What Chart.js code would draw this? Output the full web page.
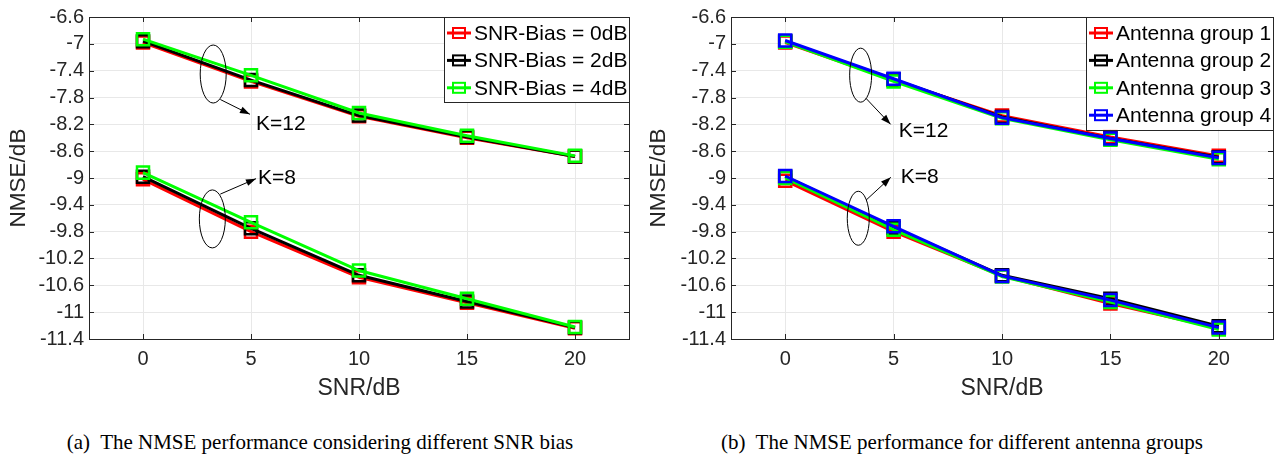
<!DOCTYPE html>
<html>
<head>
<meta charset="utf-8">
<script src="https://cdn.jsdelivr.net/npm/chart.js@4.4.1/dist/chart.umd.min.js"></script>
<style>
  body { margin: 0; background: #fff; width: 1284px; height: 456px; position: relative; overflow: hidden; }
  canvas { position: absolute; top: 0; }
  #ca { left: 0; }
  #cb { left: 640px; }
  .cap { position: absolute; top: 432px; width: 640px; text-align: center; font-family: 'Liberation Serif', 'Times New Roman', serif; font-size: 21px; line-height: 21px; color: #000; white-space: pre; }
</style>
</head>
<body>
<canvas id="ca" width="640" height="410"></canvas>
<canvas id="cb" width="644" height="410"></canvas>
<div class="cap" style="left:0px">(a)  The NMSE performance considering different SNR bias</div>
<div class="cap" style="left:642px">(b)  The NMSE performance for different antenna groups</div>
<script>
// x values and ticks
const snr = [0, 5, 10, 15, 20];
const xTicks = [0, 5, 10, 15, 20];
const yTicks = [-11.4, -11, -10.6, -10.2, -9.8, -9.4, -9, -8.6, -8.2, -7.8, -7.4, -7, -6.6];

// (a) different SNR bias
const biasLabels = ['SNR-Bias = 0dB', 'SNR-Bias = 2dB', 'SNR-Bias = 4dB'];
const biasColors = ['#ff0000', '#000000', '#00ff00'];
const bias0_k12 = [-6.98, -7.56, -8.08, -8.40, -8.68];
const bias2_k12 = [-6.96, -7.54, -8.07, -8.39, -8.68];
const bias4_k12 = [-6.93, -7.47, -8.03, -8.37, -8.67];
const bias0_k8 = [-9.02, -9.80, -10.48, -10.86, -11.24];
const bias2_k8 = [-8.98, -9.75, -10.45, -10.84, -11.23];
const bias4_k8 = [-8.92, -9.66, -10.38, -10.80, -11.22];

// (b) different antenna groups
const groupLabels = ['Antenna group 1', 'Antenna group 2', 'Antenna group 3', 'Antenna group 4'];
const groupColors = ['#ff0000', '#000000', '#00ff00', '#0000ff'];
const g1_k12 = [-6.98, -7.54, -8.07, -8.39, -8.67];
const g2_k12 = [-6.96, -7.53, -8.09, -8.41, -8.69];
const g3_k12 = [-6.97, -7.56, -8.11, -8.43, -8.72];
const g4_k12 = [-6.95, -7.52, -8.10, -8.41, -8.70];
const g1_k8 = [-9.04, -9.80, -10.46, -10.87, -11.24];
const g2_k8 = [-8.98, -9.74, -10.45, -10.80, -11.21];
const g3_k8 = [-9.00, -9.77, -10.47, -10.85, -11.26];
const g4_k8 = [-8.97, -9.72, -10.46, -10.82, -11.23];

Chart.defaults.font.family = "'Liberation Sans', Arial, sans-serif";
Chart.defaults.font.size = 20;
Chart.defaults.color = '#262626';

function pts(ys) {
  return snr.map((x, i) => ({x: x, y: ys[i]}));
}

function series(label, color, ys, order) {
  return {
    label: label,
    data: pts(ys),
    borderColor: color,
    backgroundColor: 'rgba(0,0,0,0)',
    borderWidth: 3,
    pointStyle: 'rect',
    pointRadius: 8.5,
    pointBorderWidth: 2.5,
    pointBorderColor: color,
    pointBackgroundColor: 'rgba(0,0,0,0)',
    tension: 0,
    fill: false,
    order: order
  };
}

// box + inward tick marks like matlab
const boxPlugin = {
  id: 'box',
  afterDatasetsDraw(chart) {
    const {ctx, chartArea: a, scales: {x, y}} = chart;
    ctx.save();
    ctx.strokeStyle = '#262626';
    ctx.lineWidth = 1;
    ctx.beginPath();
    x.ticks.forEach(t => {
      const px = Math.round(x.getPixelForValue(t.value)) + 0.5;
      ctx.moveTo(px, a.bottom); ctx.lineTo(px, a.bottom - 5);
      ctx.moveTo(px, a.top); ctx.lineTo(px, a.top + 5);
    });
    y.ticks.forEach(t => {
      const py = Math.round(y.getPixelForValue(t.value)) + 0.5;
      ctx.moveTo(a.left, py); ctx.lineTo(a.left + 5, py);
      ctx.moveTo(a.right, py); ctx.lineTo(a.right - 5, py);
    });
    ctx.stroke();
    ctx.strokeRect(Math.round(a.left) + 0.5, Math.round(a.top) + 0.5, Math.round(a.right - a.left), Math.round(a.bottom - a.top));
    ctx.restore();
  }
};

// ellipses, arrows and K labels
const notesPlugin = {
  id: 'notes',
  afterDraw(chart, args, opts) {
    const {ctx, scales: {x, y}} = chart;
    ctx.save();
    ctx.strokeStyle = '#000';
    ctx.fillStyle = '#000';
    ctx.lineWidth = 1;
    (opts.items || []).forEach(n => {
      const cx = x.getPixelForValue(n.ellipse[0]), cy = y.getPixelForValue(n.ellipse[1]);
      ctx.beginPath();
      ctx.ellipse(cx, cy, n.rx, n.ry, 0, 0, Math.PI * 2);
      ctx.stroke();
      const x1 = x.getPixelForValue(n.from[0]), y1 = y.getPixelForValue(n.from[1]);
      const x2 = x.getPixelForValue(n.to[0]), y2 = y.getPixelForValue(n.to[1]);
      ctx.beginPath();
      ctx.moveTo(x1, y1); ctx.lineTo(x2, y2);
      ctx.stroke();
      const ang = Math.atan2(y2 - y1, x2 - x1);
      ctx.beginPath();
      ctx.moveTo(x2, y2);
      ctx.lineTo(x2 - 10 * Math.cos(ang) + 3.5 * Math.sin(ang), y2 - 10 * Math.sin(ang) - 3.5 * Math.cos(ang));
      ctx.lineTo(x2 - 10 * Math.cos(ang) - 3.5 * Math.sin(ang), y2 - 10 * Math.sin(ang) + 3.5 * Math.cos(ang));
      ctx.closePath();
      ctx.fill();
      ctx.font = "21px 'Liberation Sans', Arial, sans-serif";
      ctx.textAlign = 'left';
      ctx.textBaseline = 'middle';
      ctx.fillText(n.text, x.getPixelForValue(n.label[0]), y.getPixelForValue(n.label[1]));
    });
    ctx.restore();
  }
};

// legend box in the upper right corner of the axes
const legendPlugin = {
  id: 'boxLegend',
  afterDraw(chart, args, opts) {
    const {ctx, chartArea: a} = chart;
    const items = chart.data.datasets.filter(d => d.inLegend);
    const w = opts.width, rowH = 27.4;
    const h = items.length * rowH + 3;
    const left = a.right - w, top = a.top;
    ctx.save();
    ctx.fillStyle = '#fff';
    ctx.fillRect(left, top, w, h);
    ctx.strokeStyle = '#262626';
    ctx.lineWidth = 1;
    ctx.strokeRect(Math.round(left) + 0.5, Math.round(top) + 0.5, Math.round(w), Math.round(h));
    ctx.font = "21px 'Liberation Sans', Arial, sans-serif";
    ctx.textBaseline = 'middle';
    ctx.textAlign = 'left';
    items.forEach((d, i) => {
      const cy = top + 16 + i * rowH;
      ctx.strokeStyle = d.borderColor;
      ctx.lineWidth = 3;
      ctx.beginPath();
      ctx.moveTo(left + 3, cy); ctx.lineTo(left + 27, cy);
      ctx.stroke();
      ctx.lineWidth = 2;
      ctx.strokeRect(left + 9, cy - 5, 12, 10);
      ctx.fillStyle = '#000';
      ctx.fillText(d.label, left + 30, cy + 1);
    });
    ctx.restore();
  }
};

function makeOptions(yWidth, padRight, legendWidth, notes) {
  return {
    responsive: false,
    animation: false,
    layout: {padding: {left: 0, top: 15, right: padRight, bottom: 1}},
    plugins: {
      legend: {display: false},
      tooltip: {enabled: false},
      notes: {items: notes},
      boxLegend: {width: legendWidth}
    },
    scales: {
      x: {
        type: 'linear',
        min: -2.5,
        max: 22.5,
        afterBuildTicks: s => { s.ticks = xTicks.map(v => ({value: v})); },
        afterFit: s => { s.height = 70; },
        ticks: {padding: 8, autoSkip: false, maxRotation: 0, color: '#262626', font: {size: 20}, callback: v => String(v)},
        grid: {color: '#e8e8e8', lineWidth: 1, drawTicks: false},
        border: {display: false},
        title: {display: true, text: 'SNR/dB', color: '#262626', padding: {top: 0, bottom: 7}, font: {size: 23}}
      },
      y: {
        min: -11.4,
        max: -6.6,
        afterBuildTicks: s => { s.ticks = yTicks.map(v => ({value: v})); },
        afterFit: s => { s.width = yWidth; },
        ticks: {padding: 5, autoSkip: false, color: '#262626', font: {size: 20}, callback: v => String(v)},
        grid: {color: '#e8e8e8', lineWidth: 1, drawTicks: false},
        border: {display: false},
        title: {display: true, text: 'NMSE/dB', color: '#262626', padding: {top: 5, bottom: 0}, font: {size: 22.5}}
      }
    }
  };
}

const biasK12 = [bias0_k12, bias2_k12, bias4_k12];
const biasK8 = [bias0_k8, bias2_k8, bias4_k8];
const dsA = [];
biasLabels.forEach((lab, i) => {
  const a = series(lab, biasColors[i], biasK12[i], 10 - i);
  a.inLegend = true;
  dsA.push(a);
  dsA.push(series(lab, biasColors[i], biasK8[i], 10 - i));
});

const groupK12 = [g1_k12, g2_k12, g3_k12, g4_k12];
const groupK8 = [g1_k8, g2_k8, g3_k8, g4_k8];
const dsB = [];
groupLabels.forEach((lab, i) => {
  const a = series(lab, groupColors[i], groupK12[i], 10 - i);
  a.inLegend = true;
  dsB.push(a);
  dsB.push(series(lab, groupColors[i], groupK8[i], 10 - i));
});

const notesA = [
  {ellipse: [3.25, -7.45], rx: 13, ry: 29, from: [3.58, -7.83], to: [4.95, -8.05], label: [5.23, -8.2], text: 'K=12'},
  {ellipse: [3.21, -9.61], rx: 13, ry: 29, from: [3.58, -9.24], to: [5.23, -9.01], label: [5.32, -9.01], text: 'K=8'}
];
const notesB = [
  {ellipse: [3.48, -7.467], rx: 11, ry: 27, from: [3.72, -7.81], to: [4.86, -8.2], label: [5.24, -8.3], text: 'K=12'},
  {ellipse: [3.37, -9.6], rx: 11, ry: 27, from: [3.73, -9.33], to: [4.87, -8.99], label: [5.33, -8.985], text: 'K=8'}
];

new Chart('ca', {
  type: 'line',
  data: {datasets: dsA},
  options: makeOptions(89, 6, 185, notesA),
  plugins: [boxPlugin, notesPlugin, legendPlugin]
});

new Chart('cb', {
  type: 'line',
  data: {datasets: dsB},
  options: makeOptions(91, 7, 187, notesB),
  plugins: [boxPlugin, notesPlugin, legendPlugin]
});
</script>
</body>
</html>
